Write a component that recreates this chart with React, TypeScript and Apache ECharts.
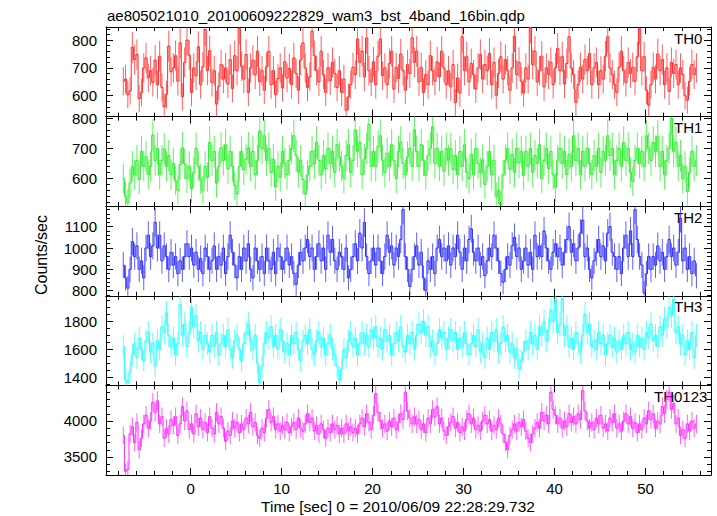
import { useEffect, useRef } from "react";
import * as echarts from "echarts";

const FONT = "'Liberation Sans', Arial, Helvetica, sans-serif";

// Light curve binning (s)
const binStart = -7.4;
const binWidth = 0.25;

// Count rates (counts/sec) per 0.25 s bin
const th0Rate = [
  652, 660, 604, 618, 774, 730, 748, 590, 612, 700, 736, 664, 690, 648, 728, 640,
  742, 630, 560, 604, 778, 686, 700, 744, 652, 790, 596, 720, 800, 746, 612, 700,
  672, 776, 640, 704, 838, 690, 762, 648, 690, 570, 634, 712, 660, 700, 642, 730,
  626, 744, 690, 842, 706, 660, 748, 612, 700, 728, 676, 760, 650, 690, 620, 704,
  760, 640, 690, 604, 662, 700, 628, 722, 664, 698, 640, 736, 680, 620, 728, 790,
  700, 630, 668, 832, 744, 690, 650, 760, 676, 612, 700, 654, 720, 680, 630, 690,
  612, 660, 548, 596, 640, 702, 676, 804, 720, 760, 668, 808, 690, 650, 722, 640,
  742, 804, 672, 700, 640, 716, 760, 624, 702, 662, 750, 690, 620, 712, 680, 808,
  720, 760, 650, 702, 612, 676, 640, 744, 690, 652, 722, 668, 760, 700, 640, 690,
  632, 712, 576, 664, 610, 812, 690, 740, 650, 716, 676, 624, 700, 748, 660, 712,
  690, 752, 640, 720, 602, 680, 740, 660, 730, 690, 620, 700, 814, 676, 720, 652,
  610, 700, 660, 846, 712, 760, 650, 690, 742, 632, 700, 676, 720, 640, 700, 770,
  690, 740, 642, 716, 812, 700, 676, 576, 640, 702, 660, 730, 690, 752, 640, 700,
  720, 640, 690, 660, 742, 812, 700, 676, 640, 612, 702, 760, 690, 648, 720, 680,
  702, 652, 740, 842, 690, 740, 620, 566, 640, 702, 660, 750, 690, 730, 640, 700,
  616, 720, 680, 712, 640, 700, 676, 600, 584, 652, 712, 676, 700,
];

const th1Rate = [
  600, 540, 518, 584, 640, 612, 660, 596, 690, 640, 672, 612, 640, 744, 660, 700,
  612, 660, 698, 640, 676, 612, 650, 592, 560, 646, 702, 648, 600, 640, 566, 620,
  700, 640, 598, 560, 640, 604, 720, 660, 690, 584, 640, 702, 660, 712, 632, 690,
  640, 576, 548, 640, 690, 628, 664, 702, 640, 690, 612, 660, 758, 700, 742, 660,
  700, 620, 664, 572, 640, 604, 690, 650, 612, 660, 700, 742, 676, 620, 660, 596,
  548, 612, 640, 690, 648, 720, 660, 612, 676, 632, 700, 650, 690, 620, 712, 672,
  640, 600, 676, 712, 620, 660, 762, 690, 720, 612, 664, 700, 780, 640, 690, 640,
  706, 742, 660, 620, 684, 640, 712, 660, 600, 690, 720, 650, 612, 672, 700, 640,
  762, 690, 640, 712, 660, 610, 676, 700, 772, 650, 700, 640, 690, 624, 700, 660,
  700, 630, 676, 612, 690, 640, 712, 620, 600, 680, 612, 700, 650, 620, 662, 580,
  640, 690, 612, 660, 540, 560, 512, 612, 660, 700, 630, 680, 620, 700, 652, 690,
  610, 690, 640, 700, 620, 676, 650, 712, 600, 660, 700, 632, 690, 612, 570, 660,
  700, 650, 690, 612, 680, 640, 742, 660, 700, 612, 690, 640, 700, 650, 612, 676,
  640, 700, 620, 690, 660, 742, 676, 700, 612, 660, 700, 640, 720, 660, 700, 620,
  590, 660, 700, 650, 690, 640, 742, 700, 660, 720, 690, 740, 640, 690, 612, 660,
  700, 800, 690, 720, 640, 676, 600, 640, 556, 620, 690, 640, 660,
];

const th2Rate = [
  920, 860, 812, 900, 1030, 960, 1010, 900, 940, 860, 1000, 1060, 960, 1010, 1120, 1000,
  1060, 940, 1010, 960, 900, 980, 920, 960, 880, 940, 900, 960, 1020, 960, 1000, 920,
  980, 900, 950, 880, 1000, 960, 900, 940, 1010, 900, 960, 920, 1000, 880, 960, 1060,
  980, 920, 860, 960, 900, 1000, 940, 1020, 900, 860, 1000, 940, 900, 960, 880, 1000,
  940, 900, 980, 880, 1000, 960, 900, 940, 1000, 920, 960, 880, 830, 920, 980, 940,
  1000, 1040, 960, 1000, 900, 960, 1020, 940, 1000, 900, 1060, 980, 1040, 940, 900, 980,
  960, 900, 1000, 860, 900, 960, 1020, 940, 1070, 1000, 1120, 960, 880, 940, 1000, 920,
  1000, 940, 880, 960, 1060, 980, 1010, 920, 1000, 960, 1040, 1180, 960, 900, 820, 900,
  960, 1010, 920, 980, 860, 800, 940, 900, 960, 880, 1000, 1040, 960, 1000, 940, 1010,
  920, 1000, 960, 1060, 980, 900, 1000, 940, 1040, 1090, 980, 940, 1000, 920, 960, 870,
  940, 1000, 960, 1060, 1000, 940, 880, 840, 900, 960, 920, 1010, 1050, 960, 1000, 900,
  940, 1000, 920, 980, 900, 1060, 960, 1010, 960, 1080, 1000, 940, 900, 980, 1020, 960,
  1000, 920, 980, 1040, 1100, 980, 1020, 940, 1000, 1070, 1130, 960, 1000, 900, 860, 940,
  980, 1040, 960, 1010, 940, 1070, 1100, 980, 960, 900, 960, 880, 1000, 1060, 960, 1080,
  960, 1180, 1040, 960, 920, 790, 880, 960, 900, 960, 920, 1010, 940, 980, 900, 960,
  1040, 960, 1000, 920, 980, 1140, 940, 1000, 900, 960, 880, 940, 870,
];

const th3Rate = [
  1620, 1380, 1360, 1440, 1560, 1640, 1540, 1680, 1600, 1520, 1660, 1720, 1580, 1640, 1480, 1660,
  1600, 1760, 1720, 1860, 1700, 1620, 1680, 1560, 1640, 1920, 1700, 1780, 1620, 1720, 1900, 1760,
  1840, 1660, 1720, 1600, 1700, 1640, 1580, 1700, 1620, 1720, 1560, 1640, 1700, 1620, 1740, 1600,
  1540, 1660, 1700, 1600, 1520, 1640, 1720, 1780, 1660, 1600, 1700, 1500, 1360, 1480, 1640, 1720,
  1680, 1760, 1620, 1700, 1600, 1740, 1660, 1580, 1640, 1560, 1700, 1640, 1720, 1600, 1520, 1660,
  1700, 1640, 1740, 1600, 1560, 1660, 1720, 1620, 1680, 1560, 1640, 1700, 1600, 1560, 1480, 1380,
  1460, 1600, 1540, 1660, 1720, 1620, 1680, 1560, 1640, 1720, 1640, 1700, 1620, 1740, 1680, 1760,
  1620, 1680, 1600, 1740, 1660, 1700, 1560, 1640, 1720, 1660, 1760, 1620, 1580, 1700, 1640, 1720,
  1600, 1700, 1780, 1720, 1800, 1700, 1760, 1620, 1660, 1560, 1640, 1740, 1680, 1720, 1600, 1680,
  1740, 1660, 1720, 1600, 1680, 1620, 1720, 1640, 1560, 1640, 1700, 1620, 1740, 1580, 1640, 1540,
  1680, 1600, 1720, 1660, 1740, 1580, 1640, 1760, 1660, 1700, 1580, 1640, 1540, 1600, 1460, 1520,
  1580, 1660, 1600, 1720, 1640, 1700, 1600, 1760, 1700, 1800, 1660, 1740, 1880, 1800, 1960, 1720,
  1780, 1960, 1700, 1760, 1620, 1680, 1600, 1720, 1640, 1580, 1700, 1850, 1720, 1780, 1620, 1660,
  1600, 1720, 1640, 1700, 1560, 1640, 1700, 1620, 1680, 1580, 1660, 1600, 1700, 1640, 1720, 1600,
  1640, 1580, 1700, 1620, 1680, 1600, 1720, 1680, 1780, 1660, 1700, 1620, 1760, 1700, 1820, 1760,
  1900, 1840, 1960, 1720, 1760, 1640, 1700, 1560, 1660, 1600, 1720, 1540, 1700,
];

const th0123Rate = [
  3800, 3300, 3330, 3820, 3920, 3700, 3980, 3600, 3760, 3960, 4080, 3900, 4000, 4260, 4120, 4280,
  3960, 4060, 3760, 3900, 3820, 4020, 3940, 4060, 3800, 3960, 4200, 4000, 4140, 3880, 3960, 3820,
  4100, 3920, 4040, 3880, 3980, 3840, 4060, 3900, 3820, 4120, 3960, 4060, 3900, 3720, 3860, 3800,
  4000, 3900, 3980, 3840, 3960, 3880, 4040, 3960, 4120, 3920, 3980, 3800, 3760, 3900, 3840, 4040,
  4160, 3980, 4060, 3880, 3960, 3860, 3940, 3880, 3980, 3840, 3920, 3980, 3880, 4040, 3900, 3860,
  3960, 4100, 3980, 4040, 3860, 3940, 3820, 3960, 3880, 3760, 3900, 3840, 3960, 3880, 3940, 3820,
  3900, 3820, 3960, 3860, 3920, 3840, 3900, 3820, 3960, 4040, 3920, 4100, 3980, 3880, 4080, 4380,
  4120, 4000, 3900, 3960, 3860, 4000, 3920, 4040, 3880, 3980, 4100, 4020, 4400, 4140, 4040, 3960,
  4060, 3960, 4020, 3880, 3960, 3840, 4040, 3960, 4160, 4060, 4200, 3960, 4040, 3860, 3800, 3920,
  3980, 4060, 3900, 3980, 3840, 3920, 3860, 4020, 4100, 3960, 4040, 3880, 3940, 3860, 4000, 4080,
  3960, 4020, 3860, 3940, 3880, 4040, 3960, 3820, 3700, 3600, 3800, 3880, 3960, 3860, 3980, 3920,
  4020, 3860, 3760, 3700, 3820, 3900, 3980, 3900, 4120, 4000, 4080, 3960, 4400, 4160, 4080, 3960,
  4040, 3900, 4000, 3920, 4100, 3980, 4060, 3960, 4100, 4020, 4420, 4140, 4000, 3900, 3980, 3880,
  4040, 3960, 4080, 3900, 3960, 3860, 4040, 3980, 4100, 3900, 3960, 3860, 4000, 4100, 3960, 4060,
  3900, 3980, 3840, 3960, 3880, 4040, 3960, 4140, 4020, 4100, 3900, 4000, 3960, 4200, 4100, 4300,
  4400, 4160, 4240, 3960, 4040, 3800, 3880, 3760, 3960, 3860, 4000, 3900, 3960,
];

const panelNames = ["TH0", "TH1", "TH2", "TH3", "TH0123"];
const panelRates = [th0Rate, th1Rate, th2Rate, th3Rate, th0123Rate];

const xMajorTicks = [0, 10, 20, 30, 40, 50];
const xMinorTicks = [-8, -6, -4, -2, 0, 2, 4, 6, 8, 10, 12, 14, 16, 18, 20, 22, 24, 26, 28, 30, 32, 34, 36, 38, 40, 42, 44, 46, 48, 50, 52, 54, 56];
const yMajorTicks = [
  [600, 700, 800],
  [600, 700, 800],
  [800, 900, 1000, 1100],
  [1400, 1600, 1800],
  [3500, 4000],
];
const yMinorStep = [20, 20, 20, 50, 100];
const yRanges = [
  [525, 847],
  [507, 806],
  [776, 1196],
  [1342, 1982],
  [3250, 4494],
];

const colors = ["#ff2a2a", "#2aee2a", "#2a2aff", "#2affff", "#ff2aff"];
const labelLeft = [674, 674, 674, 674, 654];

const X_MIN = -9.3;
const X_MAX = 57.2;
const GRID_LEFT = 106;
const GRID_WIDTH = 605;
const GRID_TOP = 27;
const PANEL_H = 89.6;

function buildOption() {
  const grid: any[] = [];
  const xAxis: any[] = [];
  const yAxis: any[] = [];
  const series: any[] = [];
  const graphic: any[] = [];
  const black = { color: "#000", width: 1 };
  const plain = (v: number) => String(v);

  panelNames.forEach((name, k) => {
    const top = GRID_TOP + k * PANEL_H;
    grid.push({
      left: GRID_LEFT,
      top,
      width: GRID_WIDTH,
      height: PANEL_H,
      containLabel: false,
      outerBoundsMode: "none",
    });
    const [ymin, ymax] = yRanges[k];
    const step = yMinorStep[k];
    const yMinor: number[] = [];
    for (let v = Math.ceil(ymin / step) * step; v <= ymax; v += step) yMinor.push(v);

    const xb = {
      type: "value",
      gridIndex: k,
      min: X_MIN,
      max: X_MAX,
      splitLine: { show: false },
      axisPointer: { show: false },
    };
    xAxis.push(
      {
        ...xb,
        position: "bottom",
        axisLine: { show: true, onZero: false, lineStyle: black },
        axisTick: { show: true, inside: true, length: 7, customValues: xMajorTicks, lineStyle: black },
        axisLabel: {
          show: k === 4,
          customValues: xMajorTicks,
          formatter: plain,
          color: "#000",
          fontSize: 15,
          fontFamily: FONT,
          margin: 6,
        },
      },
      {
        ...xb,
        position: "bottom",
        axisLine: { show: false, onZero: false },
        axisTick: { show: true, inside: true, length: 4, customValues: xMinorTicks, lineStyle: black },
        axisLabel: { show: false },
      },
      {
        ...xb,
        position: "top",
        axisLine: { show: true, onZero: false, lineStyle: black },
        axisTick: { show: true, inside: true, length: 7, customValues: xMajorTicks, lineStyle: black },
        axisLabel: { show: false },
      },
      {
        ...xb,
        position: "top",
        axisLine: { show: false, onZero: false },
        axisTick: { show: true, inside: true, length: 4, customValues: xMinorTicks, lineStyle: black },
        axisLabel: { show: false },
      }
    );

    const yb = {
      type: "value",
      gridIndex: k,
      min: ymin,
      max: ymax,
      splitLine: { show: false },
      axisPointer: { show: false },
    };
    yAxis.push(
      {
        ...yb,
        position: "left",
        axisLine: { show: true, onZero: false, lineStyle: black },
        axisTick: { show: true, inside: true, length: 7, customValues: yMajorTicks[k], lineStyle: black },
        axisLabel: {
          show: true,
          customValues: yMajorTicks[k],
          formatter: plain,
          color: "#000",
          fontSize: 15,
          fontFamily: FONT,
          margin: 9,
        },
      },
      {
        ...yb,
        position: "left",
        axisLine: { show: false, onZero: false },
        axisTick: { show: true, inside: true, length: 4, customValues: yMinor, lineStyle: black },
        axisLabel: { show: false },
      },
      {
        ...yb,
        position: "right",
        axisLine: { show: true, onZero: false, lineStyle: black },
        axisTick: { show: true, inside: true, length: 7, customValues: yMajorTicks[k], lineStyle: black },
        axisLabel: { show: false },
      },
      {
        ...yb,
        position: "right",
        axisLine: { show: false, onZero: false },
        axisTick: { show: true, inside: true, length: 4, customValues: yMinor, lineStyle: black },
        axisLabel: { show: false },
      }
    );

    const rates = panelRates[k];
    const pts = rates.map((v, i) => [binStart + i * binWidth, v]);
    const errs = rates.map((v, i) => {
      const e = Math.sqrt(v * binWidth) / binWidth; // Poisson error of the bin
      return [binStart + i * binWidth, Math.max(ymin, v - e), Math.min(ymax, v + e)];
    });
    const color = colors[k];

    series.push({
      type: "custom",
      xAxisIndex: k * 4,
      yAxisIndex: k * 4,
      data: errs,
      encode: { x: 0, y: [1, 2] },
      silent: true,
      renderItem: (_p: any, api: any) => {
        const a = api.coord([api.value(0), api.value(1)]);
        const b = api.coord([api.value(0), api.value(2)]);
        return {
          type: "line",
          shape: { x1: a[0], y1: a[1], x2: b[0], y2: b[1] },
          style: { stroke: color, lineWidth: 1, opacity: 0.75 },
        };
      },
    });
    series.push({
      type: "line",
      xAxisIndex: k * 4,
      yAxisIndex: k * 4,
      data: pts,
      step: "middle",
      symbol: "none",
      silent: true,
      lineStyle: { color, width: 1 },
    });

    graphic.push({
      type: "text",
      x: labelLeft[k],
      y: top + 11,
      style: {
        text: name,
        font: `15px ${FONT}`,
        fill: "#000",
        textAlign: "left",
        textVerticalAlign: "middle",
      },
    });
  });

  graphic.push(
    {
      type: "text",
      x: 107,
      y: 15,
      style: {
        text: "ae805021010_20100609222829_wam3_bst_4band_16bin.qdp",
        font: `15px ${FONT}`,
        fill: "#000",
        textAlign: "left",
        textVerticalAlign: "middle",
      },
    },
    {
      type: "text",
      x: 41,
      y: 255,
      rotation: Math.PI / 2,
      style: {
        text: "Counts/sec",
        font: `16px ${FONT}`,
        fill: "#000",
        textAlign: "center",
        textVerticalAlign: "middle",
      },
    },
    {
      type: "text",
      x: 398,
      y: 506,
      style: {
        text: "Time [sec] 0 = 2010/06/09 22:28:29.732",
        font: `15.5px ${FONT}`,
        fill: "#000",
        textAlign: "center",
        textVerticalAlign: "middle",
      },
    }
  );

  return {
    animation: false,
    backgroundColor: "#ffffff",
    grid,
    xAxis,
    yAxis,
    series,
    graphic,
  };
}

export default function App() {
  const ref = useRef<HTMLDivElement>(null);
  useEffect(() => {
    if (!ref.current) return;
    const chart = echarts.init(ref.current, null, { renderer: "svg" });
    chart.setOption(buildOption() as any);
    return () => chart.dispose();
  }, []);
  return (
    <div
      ref={ref}
      style={{ position: "fixed", left: 0, top: 0, width: 717, height: 516, background: "#fff" }}
    />
  );
}
